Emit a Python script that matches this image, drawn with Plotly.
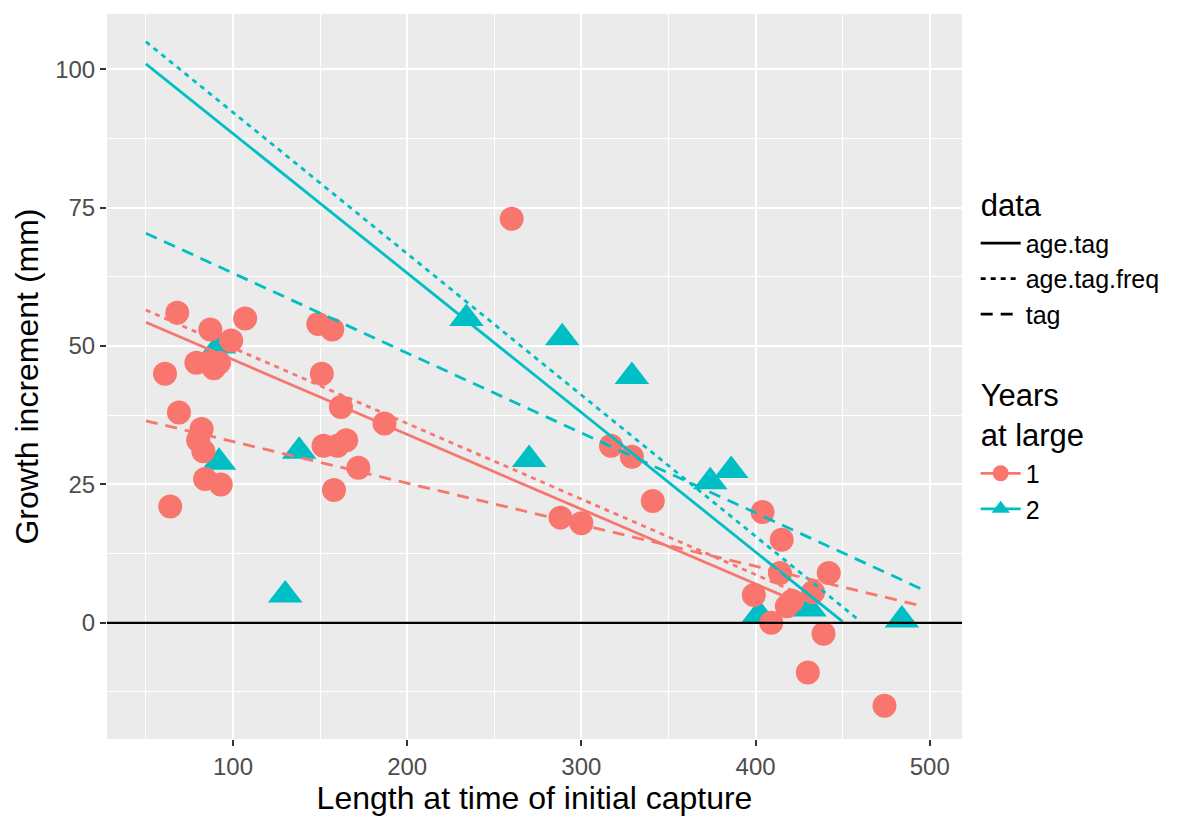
import plotly.graph_objects as go

# ---- data: Years at large = 1 (circles) ----
len1 = [61, 64, 68, 69, 79, 86, 89, 92, 87, 99, 107, 82, 80, 83, 84, 93,
        149, 157, 151, 162, 152, 160, 165, 172, 158, 187,
        260, 288, 300, 317, 329, 341,
        404, 415, 414, 442, 399, 418, 421, 433, 409, 439, 430, 474]
inc1 = [45, 21, 56, 38, 47, 47, 46, 47, 53, 51, 55, 35, 33, 31, 26, 25,
        54, 53, 45, 39, 32, 32, 33, 28, 24, 36,
        73, 19, 18, 32, 30, 22,
        20, 15, 9, 9, 5, 3, 4, 5.5, 0, -2, -9, -15]

# ---- data: Years at large = 2 (triangles) ----
len2 = [92, 92, 130, 138, 234, 270, 289, 329, 374, 386, 402, 431, 484]
inc2 = [50, 29, 5, 31, 55, 29.5, 51.5, 44.5, 25.5, 27.5, 1.5, 2.5, 0.5]

# ---- fitted lines (start/end), per model and group ----
fit_names = ["age.tag", "age.tag.freq", "tag"]
fit_dash = ["solid", "5px,5px", "12px,8px"]
fit1_x0 = [50, 50, 50]
fit1_x1 = [415, 430, 496]
fit1_y0 = [54.3, 56.5, 36.5]
fit1_y1 = [5.0, 4.6, 3.0]
fit2_x0 = [50, 50, 50]
fit2_x1 = [450, 460, 496]
fit2_y0 = [101.0, 105.0, 70.4]
fit2_y1 = [0.2, 0.3, 6.0]

hline_y = 0

xticks = [100, 200, 300, 400, 500]
yticks = [0, 25, 50, 75, 100]

RED = "#F8766D"
CYAN = "#00BFC4"
FONT = "Liberation Sans, Arial, sans-serif"
LW = 2.8

fig = go.Figure()

# points: triangles first, circles on top
fig.add_trace(go.Scatter(x=len2, y=inc2, mode="markers", showlegend=False,
                         marker=dict(symbol="triangle-up", size=30, color=CYAN,
                                     line=dict(width=0))))
fig.add_trace(go.Scatter(x=len1, y=inc1, mode="markers", showlegend=False,
                         marker=dict(symbol="circle", size=24, color=RED,
                                     line=dict(width=0))))

fig.add_hline(y=hline_y, line=dict(color="black", width=2.2))

for i in range(3):
    fig.add_trace(go.Scatter(x=[fit1_x0[i], fit1_x1[i]], y=[fit1_y0[i], fit1_y1[i]],
                             mode="lines", showlegend=False,
                             line=dict(color=RED, width=LW, dash=fit_dash[i])))
    fig.add_trace(go.Scatter(x=[fit2_x0[i], fit2_x1[i]], y=[fit2_y0[i], fit2_y1[i]],
                             mode="lines", showlegend=False,
                             line=dict(color=CYAN, width=LW, dash=fit_dash[i])))

# legend entries
for i in range(3):
    fig.add_trace(go.Scatter(x=[None], y=[None], mode="lines", name=fit_names[i],
                             legendgroup="data",
                             legendgrouptitle=dict(text="data",
                                                   font=dict(size=31, color="black", family=FONT)),
                             line=dict(color="black", width=LW, dash=fit_dash[i])))
fig.add_trace(go.Scatter(x=[None], y=[None], mode="lines+markers", name="1",
                         legendgroup="years",
                         legendgrouptitle=dict(text="Years<br>at large",
                                               font=dict(size=31, color="black", family=FONT)),
                         line=dict(color=RED, width=LW),
                         marker=dict(symbol="circle", size=24, color=RED)))
fig.add_trace(go.Scatter(x=[None], y=[None], mode="lines+markers", name="2",
                         legendgroup="years",
                         line=dict(color=CYAN, width=LW),
                         marker=dict(symbol="triangle-up", size=30, color=CYAN)))

axis_common = dict(showline=False, zeroline=False, ticks="outside", ticklen=6,
                   tickwidth=1.5, tickcolor="#333333",
                   tickfont=dict(size=24, color="#4D4D4D", family=FONT),
                   showgrid=True, gridcolor="white", gridwidth=1.8)

fig.update_xaxes(range=[27.7, 518.5], tickvals=xticks,
                 title=dict(text="Length at time of initial capture",
                            font=dict(size=32, color="black", family=FONT), standoff=4),
                 minor=dict(dtick=50, tick0=0, showgrid=True, gridcolor="white",
                            gridwidth=0.8, ticks=""),
                 **axis_common)
fig.update_yaxes(range=[-21, 110], tickvals=yticks,
                 title=dict(text="Growth increment (mm)",
                            font=dict(size=32, color="black", family=FONT), standoff=6),
                 minor=dict(dtick=25, tick0=12.5, showgrid=True, gridcolor="white",
                            gridwidth=0.8, ticks=""),
                 **axis_common)

fig.update_layout(
    width=1196, height=818,
    margin=dict(l=107, r=234, t=14, b=74),
    paper_bgcolor="white", plot_bgcolor="#EBEBEB",
    font=dict(family=FONT, color="black"),
    legend=dict(x=1.016, xanchor="left", y=0.775, yanchor="top",
                traceorder="grouped", tracegroupgap=40,
                font=dict(size=25, color="black", family=FONT),
                bgcolor="rgba(0,0,0,0)", itemwidth=40),
)

fig.write_html("out.html")
